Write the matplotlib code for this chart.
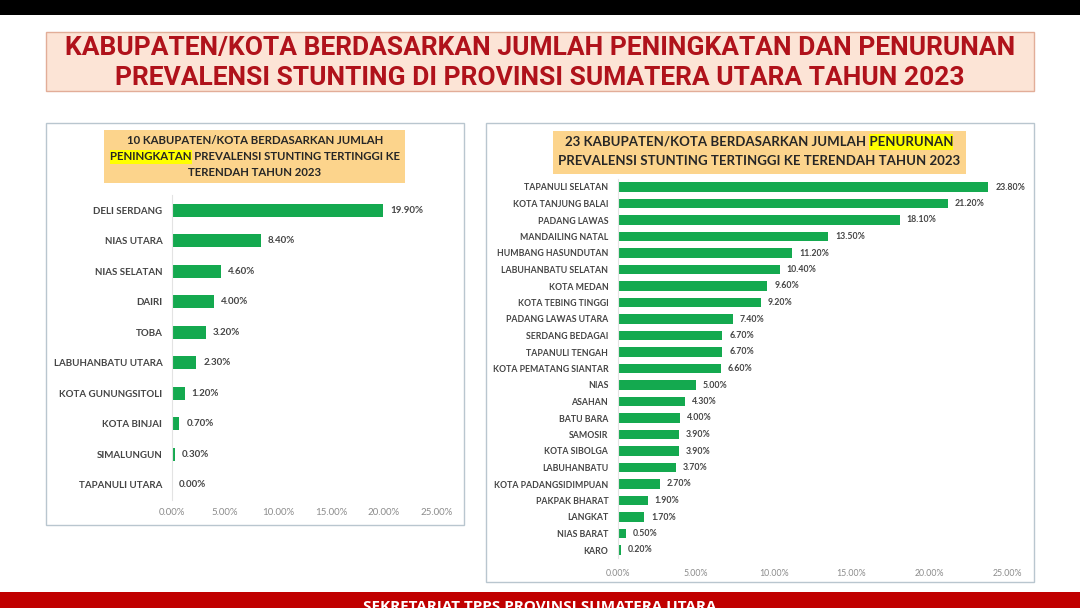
import matplotlib
matplotlib.use("Agg")
import matplotlib.pyplot as plt
from matplotlib.patches import Rectangle
from matplotlib.ticker import FuncFormatter

# %%
# data
naik_wilayah = [
    "DELI SERDANG",
    "NIAS UTARA",
    "NIAS SELATAN",
    "DAIRI",
    "TOBA",
    "LABUHANBATU UTARA",
    "KOTA GUNUNGSITOLI",
    "KOTA BINJAI",
    "SIMALUNGUN",
    "TAPANULI UTARA",
]
naik_nilai = [19.9, 8.4, 4.6, 4.0, 3.2, 2.3, 1.2, 0.7, 0.3, 0.0]

turun_wilayah = [
    "TAPANULI SELATAN",
    "KOTA TANJUNG BALAI",
    "PADANG LAWAS",
    "MANDAILING NATAL",
    "HUMBANG HASUNDUTAN",
    "LABUHANBATU SELATAN",
    "KOTA MEDAN",
    "KOTA TEBING TINGGI",
    "PADANG LAWAS UTARA",
    "SERDANG BEDAGAI",
    "TAPANULI TENGAH",
    "KOTA PEMATANG SIANTAR",
    "NIAS",
    "ASAHAN",
    "BATU BARA",
    "SAMOSIR",
    "KOTA SIBOLGA",
    "LABUHANBATU",
    "KOTA PADANGSIDIMPUAN",
    "PAKPAK BHARAT",
    "LANGKAT",
    "NIAS BARAT",
    "KARO",
]
turun_nilai = [
    23.8, 21.2, 18.1, 13.5, 11.2, 10.4, 9.6, 9.2, 7.4, 6.7, 6.7, 6.6,
    5.0, 4.3, 4.0, 3.9, 3.9, 3.7, 2.7, 1.9, 1.7, 0.5, 0.2,
]
x_ticks = [0, 5, 10, 15, 20, 25]

# %%
W, H = 1080, 608
GREEN = "#14a94f"
RED = "#b0121b"
LABEL = "#454545"
TICK = "#8c8c8c"
FONT = ["Lato", "DejaVu Sans"]

fig = plt.figure(figsize=(W / 100, H / 100), dpi=100, facecolor="white")
renderer = fig.canvas.get_renderer()


def fx(x):
    return x / W


def fy(y):
    return 1 - y / H


def box(x0, y0, x1, y1, **kw):
    r = Rectangle(
        (fx(x0), fy(y1)), (x1 - x0) / W, (y1 - y0) / H,
        transform=fig.transFigure, **kw
    )
    fig.add_artist(r)
    return r


def px_axes(x0, y0, x1, y1):
    ax = fig.add_axes([fx(x0), fy(y1), (x1 - x0) / W, (y1 - y0) / H])
    ax.set_zorder(6)
    return ax


def line_with_highlight(cx, y, text, word, size, at_start):
    t = fig.text(fx(cx), fy(y), text, ha="center", va="center", fontsize=size,
                 fontweight="bold", color="#262626", family=FONT, zorder=5)
    bb = t.get_window_extent(renderer)
    tmp = fig.text(0, 0, word, fontsize=size, fontweight="bold", family=FONT)
    ww = tmp.get_window_extent(renderer).width
    tmp.remove()
    x0 = bb.x0 if at_start else bb.x1 - ww
    h = bb.height + 3
    fig.add_artist(Rectangle((x0 / W, (bb.y0 - 1.5) / H), ww / W, h / H,
                             transform=fig.transFigure, facecolor="#ffff00",
                             edgecolor="none", zorder=4))


def plain_line(cx, y, text, size):
    fig.text(fx(cx), fy(y), text, ha="center", va="center", fontsize=size,
             fontweight="bold", color="#262626", family=FONT, zorder=5)


def bar_panel(ax, names, values, label_size, height):
    pos = list(range(len(names)))
    ax.barh(pos, values, height=height, color=GREEN, zorder=2)
    ax.set_ylim(len(names) - 0.5, -0.5)
    ax.set_xlim(0, 25)
    ax.set_yticks(pos)
    ax.set_yticklabels(names, fontsize=label_size, color=LABEL, family=FONT,
                       fontweight="bold")
    ax.set_xticks(x_ticks)
    ax.xaxis.set_major_formatter(FuncFormatter(lambda v, _: f"{v:.2f}%"))
    for lab in ax.get_xticklabels():
        lab.set_fontsize(label_size)
        lab.set_color(TICK)
        lab.set_family(FONT)
    ax.tick_params(axis="both", length=0)
    ax.tick_params(axis="y", pad=7)
    for s in ["top", "right", "bottom"]:
        ax.spines[s].set_visible(False)
    ax.spines["left"].set_color("#e3e3e3")
    ax.patch.set_alpha(0)
    for p, v in zip(pos, values):
        ax.annotate(f"{v:.2f}%", (v, p), xytext=(5, 0), textcoords="offset points",
                    va="center", ha="left", fontsize=label_size, color=LABEL,
                    family=FONT, fontweight="bold")


# %%
## frame of the slide
box(0, 0, 1080, 15, facecolor="black", edgecolor="none", zorder=1)
box(0, 592, 1080, 608, facecolor="#c00000", edgecolor="none", zorder=1)
fig.text(0.5, fy(611), "SEKRETARIAT TPPS PROVINSI SUMATERA UTARA", ha="center",
         va="baseline", fontsize=11, fontweight="bold", color="white",
         family=["Open Sans", "DejaVu Sans"], zorder=5)

box(46, 32, 1034, 91, facecolor="#fce4d6", edgecolor="#e2ad98", linewidth=1, zorder=1)
fig.text(0.5, fy(48), "KABUPATEN/KOTA BERDASARKAN JUMLAH PENINGKATAN DAN PENURUNAN",
         ha="center", va="center", fontsize=19, fontweight="bold", color=RED,
         family=["Roboto", "DejaVu Sans"], zorder=5)
fig.text(0.5, fy(78), "PREVALENSI STUNTING DI PROVINSI SUMATERA UTARA TAHUN 2023",
         ha="center", va="center", fontsize=19, fontweight="bold", color=RED,
         family=["Roboto", "DejaVu Sans"], zorder=5)

# %%
## left panel: peningkatan
box(46, 123, 464, 525, facecolor="white", edgecolor="#b9c6cf", linewidth=1, zorder=1)
box(104, 130, 405, 183, facecolor="#fcd48c", edgecolor="none", zorder=2)
plain_line(255, 141, "10 KABUPATEN/KOTA BERDASARKAN JUMLAH", 8.2)
line_with_highlight(255, 157, "PENINGKATAN PREVALENSI STUNTING TERTINGGI KE",
                    "PENINGKATAN", 8.2, at_start=True)
plain_line(255, 173, "TERENDAH TAHUN 2023", 8.2)

ax1 = px_axes(172, 195, 437, 500)
bar_panel(ax1, naik_wilayah, naik_nilai, 7, 0.43)
ax1.tick_params(axis="x", pad=6)

# %%
## right panel: penurunan
box(486, 123, 1034, 582, facecolor="white", edgecolor="#b9c6cf", linewidth=1, zorder=1)
box(553, 131, 966, 174, facecolor="#fcd48c", edgecolor="none", zorder=2)
line_with_highlight(759, 142, "23 KABUPATEN/KOTA BERDASARKAN JUMLAH PENURUNAN",
                    "PENURUNAN", 9.5, at_start=False)
plain_line(759, 161, "PREVALENSI STUNTING TERTINGGI KE TERENDAH TAHUN 2023", 9.5)

ax2 = px_axes(618, 178.75, 1007, 558.25)
bar_panel(ax2, turun_wilayah, turun_nilai, 6.3, 0.55)
ax2.tick_params(axis="x", pad=8)

fig.savefig("out.png", dpi=100, facecolor="white")
